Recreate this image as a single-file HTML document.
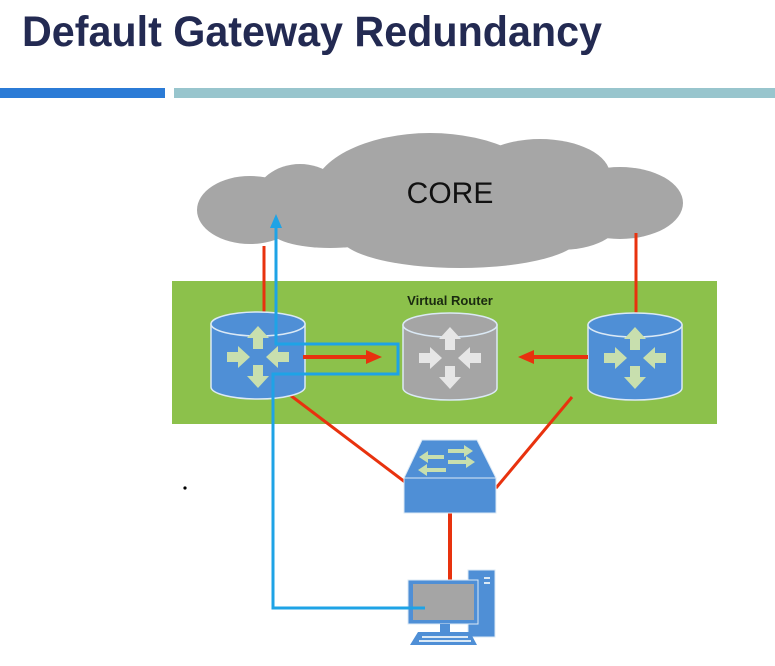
<!DOCTYPE html>
<html><head><meta charset="utf-8"><style>
html,body{margin:0;padding:0;background:#fff;}
svg{display:block;}
</style></head><body>
<svg width="775" height="666" viewBox="0 0 775 666" xmlns="http://www.w3.org/2000/svg">
<defs>
 <g id="arrows">
  <path d="M0,-31 L-11,-19 L-5,-19 L-5,-8 L5,-8 L5,-19 L11,-19 Z"/>
  <path d="M0,31 L-11,19 L-5,19 L-5,8 L5,8 L5,19 L11,19 Z"/>
  <path d="M-8,0 L-20,-11 L-20,-5 L-31,-5 L-31,5 L-20,5 L-20,11 Z"/>
  <path d="M8,0 L20,-11 L20,-5 L31,-5 L31,5 L20,5 L20,11 Z"/>
 </g>
 <g id="cyl">
  <path d="M0,12 L0,75 A47,12 0 0 0 94,75 L94,12 Z" stroke="#dbe9f5" stroke-width="1.5"/>
  <ellipse cx="47" cy="12" rx="47" ry="12" stroke="#dbe9f5" stroke-width="1.5"/>
 </g>
</defs>

<text x="22" y="46" font-family="Liberation Sans, sans-serif" font-weight="bold" font-size="43" fill="#232a52" textLength="580" lengthAdjust="spacingAndGlyphs">Default Gateway Redundancy</text>
<rect x="0" y="88" width="165" height="10" fill="#2b7bd6"/>
<rect x="174" y="88" width="601" height="10" fill="#98c5cd"/>

<!-- cloud -->
<g fill="#a6a6a6">
 <ellipse cx="250" cy="210" rx="53" ry="34"/>
 <ellipse cx="300" cy="200" rx="45" ry="36"/>
 <ellipse cx="430" cy="195" rx="118" ry="62"/>
 <ellipse cx="460" cy="236" rx="120" ry="32"/>
 <ellipse cx="540" cy="175" rx="70" ry="36"/>
 <ellipse cx="620" cy="203" rx="63" ry="36"/>
 <ellipse cx="560" cy="220" rx="60" ry="30"/>
 <ellipse cx="330" cy="230" rx="60" ry="18"/>
</g>
<text x="450" y="203" text-anchor="middle" font-family="Liberation Sans, sans-serif" font-size="30" fill="#111">CORE</text>

<line x1="264" y1="246" x2="264" y2="315" stroke="#e8320e" stroke-width="3"/>
<line x1="636" y1="233" x2="636" y2="315" stroke="#e8320e" stroke-width="3"/>

<rect x="172" y="281" width="545" height="143" fill="#8cc14b"/>
<text x="450" y="305" text-anchor="middle" font-family="Liberation Sans, sans-serif" font-weight="bold" font-size="13" fill="#1a2a10">Virtual Router</text>
<line x1="264" y1="281" x2="264" y2="315" stroke="#e8320e" stroke-width="3"/>
<line x1="636" y1="281" x2="636" y2="315" stroke="#e8320e" stroke-width="3"/>

<line x1="290" y1="395" x2="405" y2="482" stroke="#e8320e" stroke-width="3"/>
<line x1="572" y1="397" x2="496" y2="488" stroke="#e8320e" stroke-width="3"/>
<line x1="450" y1="513" x2="450" y2="580" stroke="#e8320e" stroke-width="4"/>

<g transform="translate(211,312)" fill="#4f8fd6"><use href="#cyl"/><g transform="translate(47,45)" fill="#c8dfae"><use href="#arrows"/></g></g>
<g transform="translate(403,313)" fill="#a5a5a5"><use href="#cyl"/><g transform="translate(47,45)" fill="#e6e6e6"><use href="#arrows"/></g></g>
<g transform="translate(588,313)" fill="#4f8fd6"><use href="#cyl"/><g transform="translate(47,45)" fill="#c8dfae"><use href="#arrows"/></g></g>

<line x1="303" y1="357" x2="368" y2="357" stroke="#e8320e" stroke-width="4"/>
<path d="M366,350 L382,357 L366,364 Z" fill="#e8320e"/>
<line x1="588" y1="357" x2="532" y2="357" stroke="#e8320e" stroke-width="4"/>
<path d="M534,350 L518,357 L534,364 Z" fill="#e8320e"/>

<path d="M422,440 L477,440 L496,478 L404,478 Z" fill="#4f8fd6" stroke="#dbe9f5" stroke-width="1"/>
<rect x="404" y="478" width="92" height="35" fill="#4f8fd6" stroke="#dbe9f5" stroke-width="1"/>
<g fill="#c8dfae">
 <path d="M448,449 L464,449 L464,445 L473,451 L464,457 L464,453 L448,453 Z"/>
 <path d="M444,455 L428,455 L428,451 L419,457 L428,463 L428,459 L444,459 Z"/>
 <path d="M448,460 L466,460 L466,456 L475,462 L466,468 L466,464 L448,464 Z"/>
 <path d="M446,468 L427,468 L427,464 L418,470 L427,476 L427,472 L446,472 Z"/>
</g>

<rect x="468" y="570" width="27" height="67" fill="#4f8fd6" stroke="#dbe9f5" stroke-width="1"/>
<rect x="484" y="577" width="6" height="2" fill="#dbe9f5"/>
<rect x="484" y="582" width="6" height="2" fill="#dbe9f5"/>
<rect x="408" y="580" width="70" height="44" fill="#4f8fd6" stroke="#dbe9f5" stroke-width="1"/>
<rect x="413" y="584" width="61" height="36" fill="#a5a5a5"/>
<rect x="440" y="624" width="10" height="8" fill="#4f8fd6"/>
<path d="M418,632 L470,632 L477,645 L410,645 Z" fill="#4f8fd6"/>
<g fill="#dbe9f5"><rect x="422" y="636" width="46" height="2"/><rect x="419" y="640" width="52" height="2"/></g>

<path d="M425,608 L273,608 L273,374 L398,374 L398,344 L276,344 L276,226" fill="none" stroke="#1ea3e6" stroke-width="3"/>
<path d="M270,228 L276,214 L282,228 Z" fill="#1ea3e6"/>

<circle cx="185" cy="488" r="1.6" fill="#000"/>
</svg>
</body></html>
